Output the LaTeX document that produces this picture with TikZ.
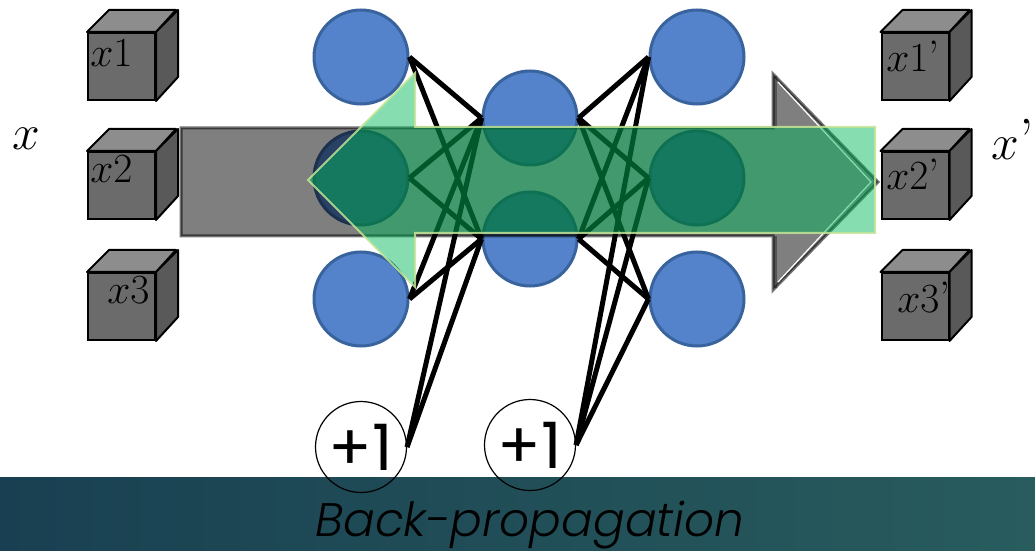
\documentclass[tikz,border=0pt]{standalone}
\usepackage{fontspec}
\newfontfamily\gothic{Poppins}
\newfontfamily\gothiclight{Poppins Light}

\definecolor{nfill}{RGB}{84,131,204}
\definecolor{nline}{RGB}{56,99,156}
\definecolor{cfront}{RGB}{107,107,107}
\definecolor{ctop}{RGB}{141,141,141}
\definecolor{cside}{RGB}{89,89,89}
\definecolor{gfill}{RGB}{0,184,90}
\definecolor{gline}{RGB}{196,228,150}
\definecolor{bandL}{RGB}{25,64,82}
\definecolor{bandR}{RGB}{40,92,93}

\tikzset{
  neuron/.style={circle, minimum size=47pt, inner sep=0pt, fill=nfill, draw=nline, line width=1.5pt},
  bias/.style={circle, minimum size=45.5pt, inner sep=0pt, draw=black, line width=0.6pt,
               font=\gothic\fontsize{32}{32}\selectfont},
  cubeface/.style={rectangle, minimum width=33.5pt, minimum height=33.5pt, inner sep=0pt,
                   fill=cfront, draw=black, line width=1pt},
  cubetop/.style={fill=ctop, draw=black, line width=1pt, line join=round},
  cubeside/.style={fill=cside, draw=black, line width=1pt, line join=round},
  wire/.style={line width=2.5pt, black},
  lab/.style={inner sep=0pt, anchor=base west, font=\fontsize{22}{22}\selectfont},
  biglab/.style={inner sep=0pt, anchor=base west, font=\fontsize{29}{29}\selectfont},
}

% a shaded cube: front face is a named node, top and side faces hang off its corners
\newcommand\cubeat[2]{%
  \node[cubeface] (#1) at (#2) {};
  \draw[cubetop] (#1.north west) -- ++(22,-22) -- ++(67,0) -- (#1.north east) -- cycle;
  \draw[cubeside] (#1.north east) -- ++(22,-22) -- ++(0,67) -- (#1.south east) -- cycle;}

\begin{document}
\begin{tikzpicture}[x=0.5pt,y=-0.5pt]
\useasboundingbox (0,0) rectangle (1035,551);

% bottom band
\fill[left color=bandL, right color=bandR] (0,477) rectangle (1035,551);
\node[anchor=base west, inner sep=0pt, font=\gothiclight\itshape\fontsize{23.5}{23.5}\selectfont]
  (bp) at (315,536) {Back-propagation};

% input cubes
\cubeat{ci1}{121.5,66.5}
\cubeat{ci2}{121.5,185.5}
\cubeat{ci3}{121.5,306.5}
\node[lab] (li1) at (90,67) {$x1$};
\node[lab] (li2) at (90,183) {$x2$};
\node[lab] (li3) at (107,303) {$x3$};
\node[biglab] (xin) at (12,150) {$x$};

% output cubes
\cubeat{co1}{915,66.5}
\cubeat{co2}{915,185.5}
\cubeat{co3}{915,306.5}
\node[lab] (lo1) at (886,72) {$x1$’};
\node[lab] (lo2) at (886,190) {$x2$’};
\node[lab] (lo3) at (897,313) {$x3$’};
\node[biglab] (xout) at (991,160) {$x$’};

% neurons
\node[neuron] (a1) at (361,57) {};
\node[neuron] (a2) at (361,178) {};
\node[neuron] (a3) at (361,299) {};
\node[neuron] (h1) at (530,118) {};
\node[neuron] (h2) at (530,239) {};
\node[neuron] (o1) at (697,57) {};
\node[neuron] (o2) at (697,178) {};
\node[neuron] (o3) at (697,299) {};

% bias units
\node[bias] (b1) at (361,447) {+1};
\node[bias] (b2) at (530,445) {+1};

% weights
\foreach \i in {a1,a2,a3,b1}
  \foreach \j in {h1,h2}
    \draw[wire] (\i.east) -- (\j.west);
\foreach \i in {h1,h2,b2}
  \foreach \j in {o1,o2,o3}
    \draw[wire] (\i.east) -- (\j.west);

% forward arrow (translucent grey)
\path[fill=black, fill opacity=0.5, draw=black, draw opacity=0.55, line width=1.5pt, line join=miter]
  (181,128) -- (773,128) -- (773,74) -- (878,182) -- (773,290) -- (773,236) -- (181,236) -- cycle;
\draw[black, opacity=0.35, line width=1.5pt] (775,76) -- (775,128) (775,236) -- (775,288);
\draw[white, line width=0.6pt] (778,82) -- (871,182) -- (778,282);

% backward arrow (translucent green)
\path[fill=gfill, fill opacity=0.48, draw=gline, draw opacity=0.85, line width=1pt, line join=miter]
  (308,180) -- (415,73) -- (415,127) -- (875,127) -- (875,233) -- (415,233) -- (415,287) -- cycle;
\end{tikzpicture}
\end{document}
